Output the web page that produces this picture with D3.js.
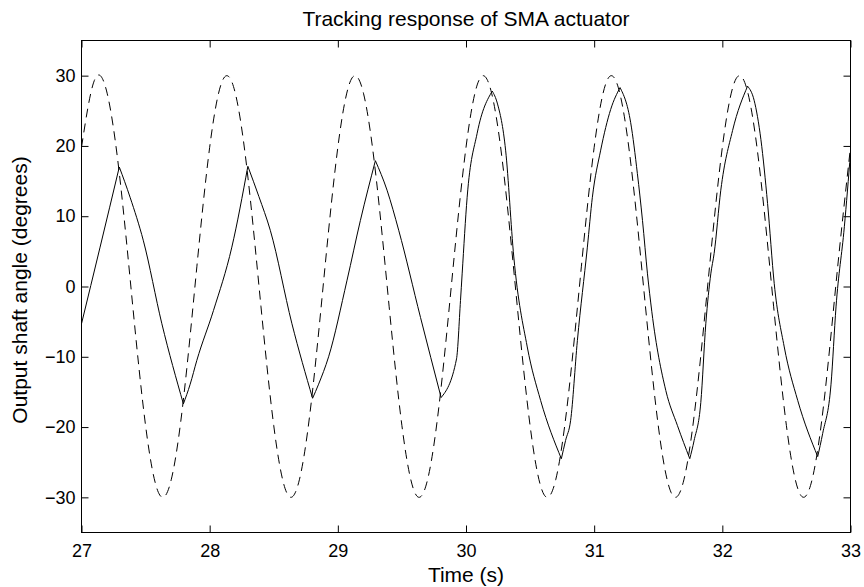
<!DOCTYPE html>
<html>
<head>
<meta charset="utf-8">
<script src="https://cdn.jsdelivr.net/npm/d3@7"></script>
<style>
  body { margin: 0; background: #fff; }
  svg { display: block; font-family: "Liberation Sans", Arial, Helvetica, sans-serif; }
</style>
</head>
<body>
<div id="chart"></div>
<script>
// reference signal (dashed), sampled every 0.1 s
var refTime = [27.0, 27.1, 27.2, 27.3, 27.4, 27.5, 27.6, 27.7, 27.8, 27.9,
               28.0, 28.1, 28.2, 28.3, 28.4, 28.5, 28.6, 28.7, 28.8, 28.9,
               29.0, 29.1, 29.2, 29.3, 29.4, 29.5, 29.6, 29.7, 29.8, 29.9,
               30.0, 30.1, 30.2, 30.3, 30.4, 30.5, 30.6, 30.7, 30.8, 30.9,
               31.0, 31.1, 31.2, 31.3, 31.4, 31.5, 31.6, 31.7, 31.8, 31.9,
               32.0, 32.1, 32.2, 32.3, 32.4, 32.5, 32.6, 32.7, 32.8, 32.9, 33.0];
var refAngle = [19.8, 29.3, 27.5, 15.3, -2.8, -19.8, -29.3, -27.5, -15.3, 2.8,
                19.8, 29.3, 27.5, 15.3, -2.8, -19.8, -29.3, -27.5, -15.3, 2.8,
                19.8, 29.3, 27.5, 15.3, -2.8, -19.8, -29.3, -27.5, -15.3, 2.8,
                19.8, 29.3, 27.5, 15.3, -2.8, -19.8, -29.3, -27.5, -15.3, 2.8,
                19.8, 29.3, 27.5, 15.3, -2.8, -19.8, -29.3, -27.5, -15.3, 2.8,
                19.8, 29.3, 27.5, 15.3, -2.8, -19.8, -29.3, -27.5, -15.3, 2.8, 19.8];

// measured actuator output (solid)
var outTime = [27.000, 27.145, 27.295, 27.379, 27.483, 27.627, 27.795, 27.848, 27.900, 28.030,
               28.173, 28.298, 28.384, 28.473, 28.642, 28.803, 28.850, 28.928, 29.072, 29.176,
               29.293, 29.384, 29.475, 29.645, 29.806, 29.926, 29.957, 29.970, 30.009, 30.087,
               30.205, 30.244, 30.309, 30.373, 30.478, 30.582, 30.744, 30.777, 30.816, 30.869,
               30.947, 30.986, 31.051, 31.129, 31.202, 31.285, 31.337, 31.377, 31.416, 31.450,
               31.559, 31.650, 31.746, 31.780, 31.832, 31.871, 31.910, 31.936, 31.988, 32.080,
               32.197, 32.248, 32.301, 32.353, 32.405, 32.483, 32.588, 32.744, 32.783, 32.848,
               32.887, 32.952, 33.000];
var outAngle = [-5.3, 5.6, 17.0, 12.7, 6.5, -5.3, -16.7, -13.9, -10.5, -3.4,
                5.6, 17.1, 12.8, 8.0, -5.3, -15.9, -13.9, -10.0, 0.9, 9.4,
                17.9, 13.7, 8.0, -4.4, -15.8, -10.3, -2.0, 1.8, 12.7, 21.8,
                27.8, 26.1, 19.4, 4.2, -8.6, -16.2, -24.5, -21.9, -19.1, -7.7,
                5.6, 12.7, 19.4, 25.2, 28.3, 23.3, 16.1, 9.4, 1.8, -3.6,
                -14.8, -19.8, -24.5, -21.9, -16.5, -5.3, 1.8, 4.7, 13.7, 22.2,
                28.5, 26.5, 20.9, 11.8, 0.4, -8.6, -16.2, -24.2, -20.9, -13.9,
                -2.9, 8.5, 19.0];

var xTicks = [27, 28, 29, 30, 31, 32, 33];
var yTicks = [-30, -20, -10, 0, 10, 20, 30];

function drawChart(){
  var width = 864, height = 587;
  var plotLeft = 81.5, plotRight = 850.5, plotTop = 40.5, plotBottom = 532.5;
  var tickLen = 7;

  var svg = d3.select("#chart").append("svg")
    .attr("width", width)
    .attr("height", height);

  var x = d3.scaleLinear().domain([27, 33]).range([plotLeft, plotRight]);
  var y = d3.scaleLinear().domain([-35, 35]).range([plotBottom, plotTop]);

  // axes, ticks pointing inwards
  svg.append("g")
    .attr("transform", "translate(0," + plotBottom + ")")
    .call(d3.axisBottom(x).tickValues(xTicks).tickFormat(d3.format("d"))
      .tickSizeInner(-tickLen).tickSizeOuter(0).tickPadding(12));

  svg.append("g")
    .attr("transform", "translate(0," + plotTop + ")")
    .call(d3.axisTop(x).tickValues(xTicks).tickFormat("")
      .tickSizeInner(-tickLen).tickSizeOuter(0));

  svg.append("g")
    .attr("transform", "translate(" + plotLeft + ",0)")
    .call(d3.axisLeft(y).tickValues(yTicks).tickFormat(d3.format("d"))
      .tickSizeInner(-tickLen).tickSizeOuter(0).tickPadding(6));

  svg.append("g")
    .attr("transform", "translate(" + plotRight + ",0)")
    .call(d3.axisRight(y).tickValues(yTicks).tickFormat("")
      .tickSizeInner(-tickLen).tickSizeOuter(0));

  svg.selectAll(".domain").remove();
  svg.selectAll(".tick line").attr("stroke", "#000");
  svg.selectAll(".tick text")
    .attr("fill", "#000")
    .style("font-size", "18px")
    .style("font-family", "'Liberation Sans', Arial, Helvetica, sans-serif");

  // plot box
  svg.append("rect")
    .attr("x", plotLeft)
    .attr("y", plotTop)
    .attr("width", plotRight - plotLeft)
    .attr("height", plotBottom - plotTop)
    .attr("fill", "none")
    .attr("stroke", "#000")
    .attr("stroke-width", 1);

  svg.append("clipPath").attr("id", "plotClip")
    .append("rect")
    .attr("x", plotLeft).attr("y", plotTop)
    .attr("width", plotRight - plotLeft).attr("height", plotBottom - plotTop);

  var plot = svg.append("g").attr("clip-path", "url(#plotClip)");

  var refLine = d3.line()
    .x(function(d, i){ return x(refTime[i]); })
    .y(function(d){ return y(d); })
    .curve(d3.curveNatural);

  plot.append("path")
    .attr("d", refLine(refAngle))
    .attr("fill", "none")
    .attr("stroke", "#000")
    .attr("stroke-width", 1)
    .attr("stroke-dasharray", "9,6");

  // output: smooth between turning points, keep the peaks sharp
  var outPoints = outTime.map(function(t, i){ return [t, outAngle[i]]; });
  var breaks = [0];
  for(var i = 1; i < outPoints.length - 1; i++){
    var a = outPoints[i][1] - outPoints[i-1][1], b = outPoints[i+1][1] - outPoints[i][1];
    if(a * b < 0) breaks.push(i);
  }
  breaks.push(outPoints.length - 1);

  var outLine = d3.line()
    .x(function(d){ return x(d[0]); })
    .y(function(d){ return y(d[1]); })
    .curve(d3.curveMonotoneX);

  var dOut = "";
  for(var k = 0; k < breaks.length - 1; k++){
    dOut += outLine(outPoints.slice(breaks[k], breaks[k+1] + 1));
  }

  plot.append("path")
    .attr("d", dOut)
    .attr("fill", "none")
    .attr("stroke", "#000")
    .attr("stroke-width", 1);

  // titles
  svg.append("text")
    .attr("x", (plotLeft + plotRight) / 2)
    .attr("y", 26)
    .attr("text-anchor", "middle")
    .style("font-size", "21px")
    .text("Tracking response of SMA actuator");

  svg.append("text")
    .attr("x", (plotLeft + plotRight) / 2)
    .attr("y", 582)
    .attr("text-anchor", "middle")
    .style("font-size", "21px")
    .text("Time (s)");

  svg.append("text")
    .attr("transform", "translate(27,290) rotate(-90)")
    .attr("text-anchor", "middle")
    .style("font-size", "21px")
    .text("Output shaft angle (degrees)");
}

drawChart();
</script>
</body>
</html>
